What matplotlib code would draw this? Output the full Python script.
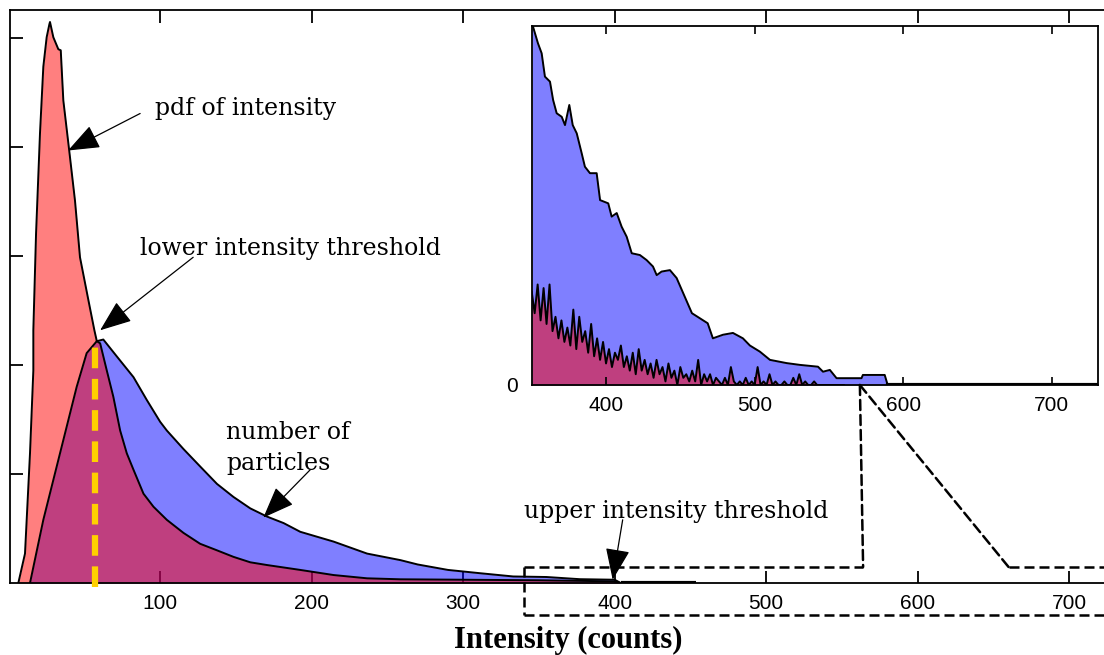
import matplotlib
matplotlib.use("Agg")
import matplotlib.pyplot as plt
from matplotlib.patches import ConnectionPatch

# === curvas principais (intensidade, altura em unidades do eixo) ===
pdf_x = [6.4, 10.8, 14.1, 16.3, 16.3, 18.1, 20.7, 22.9, 25.1, 26.9, 27.3, 29.5, 32.8,
         34.4, 36.1, 39.9, 43.8, 47.1, 52.6, 56.6, 58.2, 60.4, 64.8, 69.1, 73.6, 78.0,
         82.4, 89.0, 95.6, 104.4, 115.4, 126.4, 137.5, 148.4, 159.5, 170.5, 192.5,
         214.5, 236.6, 258.6, 300, 350, 400, 404]
pdf_y = [0, 0.27, 1.19, 1.95, 2.32, 3.21, 4.13, 4.74, 5.01, 5.13, 5.15, 5.01, 4.90,
         4.89, 4.43, 3.98, 3.51, 2.99, 2.60, 2.32, 2.22, 2.20, 1.95, 1.71, 1.40, 1.19,
         1.04, 0.82, 0.70, 0.58, 0.46, 0.36, 0.30, 0.24, 0.19, 0.165, 0.12,
         0.073, 0.043, 0.034, 0.03, 0.025, 0.015, 0]

part_x = [14.1, 22.9, 33.9, 44.9, 51.5, 58.2, 62.5, 71.4, 82.4, 91.2, 100.0, 104.4,
          115.4, 126.4, 137.5, 148.4, 159.5, 170.5, 181.5, 192.5, 214.5, 236.6, 258.6,
          270, 290, 311, 333, 355, 377, 400, 404]
part_y = [0, 0.58, 1.19, 1.80, 2.11, 2.22, 2.235, 2.08, 1.89, 1.68, 1.48, 1.40,
          1.23, 1.07, 0.91, 0.79, 0.685, 0.61, 0.55, 0.47, 0.38, 0.27, 0.21,
          0.17, 0.12, 0.09, 0.06, 0.055, 0.035, 0.03, 0]

tail_x = [404, 454]
lower_thr = 57.0
upper_thr = 400

# === detalhe (inset), altura em fração do inset ===
ins_part_x = [350.2, 350.9, 354.2, 356.7, 358.9, 362.3, 364.4, 366.8, 370.2, 372.4,
              375.3, 377.6, 380.3, 383.6, 385.8, 389.2, 393.7, 396.0, 401.5, 403.8,
              407.2, 410.5, 413.9, 417.3, 422.8, 427.3, 431.6, 434.1, 437.4, 443.0,
              447.5, 457.8, 468.4, 471.9, 478.7, 485.4, 492.1, 496.8, 503.5, 510.3,
              521.5, 530.5, 542.6, 546.0, 550.6, 555.1, 571.9, 572.8, 587.5, 589.5, 731]
ins_part_y = [1.0, 0.998, 0.952, 0.924, 0.859, 0.845, 0.794, 0.757, 0.747, 0.724,
              0.780, 0.724, 0.701, 0.646, 0.608, 0.590, 0.590, 0.515, 0.506, 0.469,
              0.479, 0.441, 0.413, 0.367, 0.362, 0.348, 0.330, 0.306, 0.316, 0.320,
              0.298, 0.200, 0.172, 0.130, 0.140, 0.145, 0.130, 0.110, 0.093, 0.070,
              0.061, 0.056, 0.051, 0.037, 0.042, 0.019, 0.019, 0.028, 0.028, 0.0, 0.0]

ins_pdf_x = list(range(350, 562, 2))
ins_pdf_y = [0.26, 0.20, 0.28, 0.18, 0.27, 0.17, 0.28, 0.15, 0.19, 0.13,
             0.18, 0.12, 0.16, 0.11, 0.21, 0.10, 0.19, 0.12, 0.15, 0.09,
             0.17, 0.08, 0.13, 0.07, 0.12, 0.06, 0.10, 0.05, 0.09, 0.07,
             0.11, 0.05, 0.08, 0.04, 0.09, 0.03, 0.10, 0.04, 0.07, 0.03,
             0.06, 0.02, 0.07, 0.03, 0.05, 0.01, 0.06, 0.02, 0.04, 0.00,
             0.05, 0.02, 0.03, 0.01, 0.04, 0.01, 0.07, 0.00, 0.03, 0.01,
             0.03, 0.00, 0.02, 0.01, 0.00, 0.02, 0.00, 0.05, 0.01, 0.00,
             0.01, 0.00, 0.02, 0.00, 0.01, 0.00, 0.05, 0.00, 0.01, 0.00,
             0.03, 0.00, 0.01, 0.00, 0.00, 0.01, 0.00, 0.00, 0.02, 0.00,
             0.03, 0.00, 0.01, 0.00, 0.00, 0.01, 0.00, 0.00, 0.00, 0.00,
             0.00, 0.00, 0.00, 0.00, 0.00, 0.00]

main_xticks = [100, 200, 300, 400, 500, 600, 700]
main_yticks = [1, 2, 3, 4, 5]
ins_xticks = [400, 500, 600, 700]

RED = (1, 0, 0, 0.5)
BLUE = (0, 0, 1, 0.5)
SERIF = "DejaVu Serif"

fig = plt.figure(figsize=(11.04, 6.55), dpi=100)

# === eixo principal ===
ax = fig.add_axes([10 / 1104, 72 / 655, 1094 / 1104, 573 / 655])
ax.set_xlim(0.9, 723)
ax.set_ylim(0, 5.26)
ax.set_axisbelow(True)

ax.fill_between(part_x, 0, part_y, color=BLUE, lw=0)
ax.fill_between(pdf_x, 0, pdf_y, color=RED, lw=0)
ax.plot(part_x, part_y, color="black", lw=1.4)
ax.plot(pdf_x, pdf_y, color="black", lw=1.4)
ax.plot(tail_x, [0, 0], color="black", lw=3, solid_capstyle="butt")
ax.plot([lower_thr, lower_thr], [-0.04, 2.22], color="#ffd000", lw=4.5,
        dashes=(3.3, 1.7), clip_on=False, zorder=5)

ax.set_xticks(main_xticks)
ax.set_yticks(main_yticks)
ax.set_yticklabels([])
ax.tick_params(direction="in", length=9, width=1.3, top=True, labelsize=15,
               pad=8)
for lab in ax.get_xticklabels():
    lab.set_family("Liberation Sans")
ax.spines["right"].set_visible(False)
for s in ["left", "top", "bottom"]:
    ax.spines[s].set_linewidth(1.3)

# caixa tracejada do zoom
dash = dict(color="black", lw=1.8, dashes=(4, 2), clip_on=False, zorder=6)
box_x0, box_y0, box_y1 = 340, -0.29, 0.147
gap_a, gap_b = 564, 660
ax.plot([box_x0, box_x0], [box_y1, box_y0], **dash)
ax.plot([box_x0, 723], [box_y0, box_y0], **dash)
ax.plot([box_x0, gap_a], [box_y1, box_y1], **dash)
ax.plot([gap_b, 723], [box_y1, box_y1], **dash)

# anotações
arrow = dict(arrowstyle="-|>,head_length=0.9,head_width=0.35", color="black",
             lw=0.9, mutation_scale=22, shrinkA=0, shrinkB=0)
txt = dict(fontsize=17, family=SERIF, va="center", ha="left")
ax.annotate("", xy=(39.2, 3.97), xytext=(86.8, 4.31), arrowprops=arrow)
ax.text(96.7, 4.36, "pdf of intensity", **txt)
ax.annotate("", xy=(60.4, 2.32), xytext=(121.8, 2.99), arrowprops=arrow)
ax.text(86.8, 3.07, "lower intensity threshold", **txt)
ax.annotate("", xy=(168.1, 0.60), xytext=(199.1, 1.04), arrowprops=arrow)
ax.text(143.6, 1.24, "number of\nparticles", linespacing=1.45, **txt)
ax.annotate("", xy=(upper_thr - 1.3, 0.03), xytext=(405.3, 0.58), arrowprops=arrow)
ax.text(339.9, 0.66, "upper intensity threshold", **txt)

fig.text(568 / 1104, 15 / 655, "Intensity (counts)", ha="center", va="center",
         fontsize=22, fontweight="bold", family="Liberation Serif")

# === inset ===
ax_in = fig.add_axes([532 / 1104, 270 / 655, 566 / 1104, 359 / 655])
ax_in.set_xlim(350.2, 731)
ax_in.set_ylim(0, 1)
ax_in.fill_between(ins_part_x, 0, ins_part_y, color=BLUE, lw=0)
ax_in.fill_between(ins_pdf_x, 0, ins_pdf_y, color=RED, lw=0)
ax_in.plot(ins_part_x, ins_part_y, color="black", lw=1.4)
ax_in.plot(ins_pdf_x, ins_pdf_y, color="black", lw=1.4)
ax_in.plot([589.5, 731], [0, 0], color="black", lw=3)
ax_in.set_xticks(ins_xticks)
ax_in.set_yticks([0])
ax_in.set_yticklabels(["0"])
ax_in.tick_params(direction="in", length=6, width=1.2, top=True, labelsize=15,
                  pad=8)
ax_in.tick_params(axis="y", length=0, pad=10)
for lab in ax_in.get_xticklabels() + ax_in.get_yticklabels():
    lab.set_family("Liberation Sans")
for s in ax_in.spines.values():
    s.set_linewidth(1.3)

# ligações do inset com a caixa
for gx in (gap_a, gap_b):
    con = ConnectionPatch(xyA=(570.8, 0), coordsA=ax_in.transData,
                          xyB=(gx, box_y1), coordsB=ax.transData,
                          color="black", lw=1.8, linestyle=(0, (4, 2)))
    fig.add_artist(con)

fig.savefig("out.png", dpi=100)
